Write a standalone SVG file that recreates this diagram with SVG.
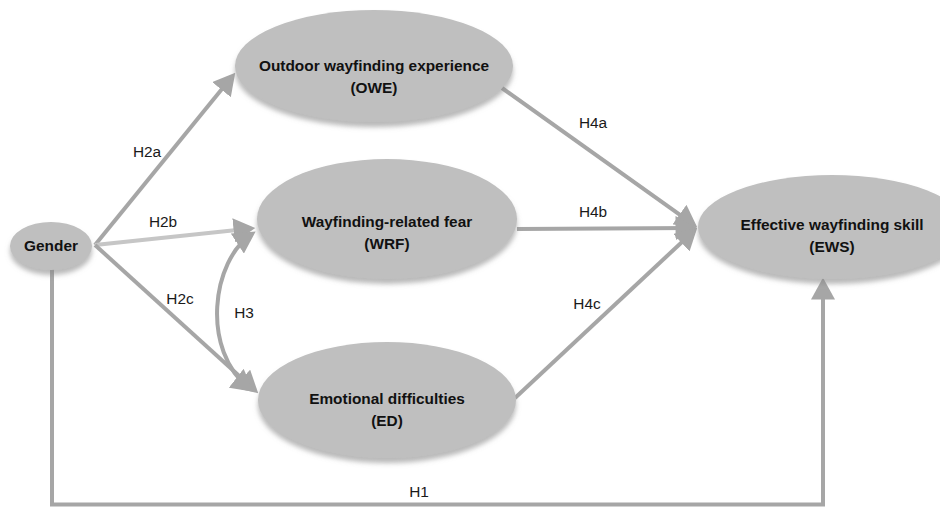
<svg xmlns="http://www.w3.org/2000/svg" width="940" height="508" viewBox="0 0 940 508">
<style>
.node{fill:#bfbfbf;filter:url(#sh)}
.nt{font-family:"Liberation Sans",Arial,sans-serif;font-size:15.4px;font-weight:bold;fill:#111;text-anchor:middle}
.lb{font-family:"Liberation Sans",Arial,sans-serif;font-size:15.4px;fill:#1a1a1a;text-anchor:middle}
.c{fill:none;stroke:#a6a6a6;stroke-width:4}
.c2{fill:none;stroke:#c6c6c6;stroke-width:4}
</style>
<defs>
<filter id="sh" x="-10%" y="-15%" width="120%" height="140%">
<feGaussianBlur in="SourceAlpha" stdDeviation="2.5"/>
<feOffset dy="5" result="b"/>
<feFlood flood-color="#8a8a8a" flood-opacity="0.6"/>
<feComposite in2="b" operator="in"/>
<feMerge><feMergeNode/><feMergeNode in="SourceGraphic"/></feMerge>
</filter>
<marker id="ah" markerUnits="userSpaceOnUse" markerWidth="22" markerHeight="24" viewBox="0 0 20 22" refX="16" refY="11" orient="auto-start-reverse">
<path d="M0,0 L20,11 L0,22 Z" fill="#a6a6a6"/>
</marker>
</defs>
<rect width="940" height="508" fill="#fff"/>
<g id="connectors">
<line class="c" x1="95" y1="245" x2="232.5" y2="76.1" marker-end="url(#ah)"/>
<line class="c2" x1="95" y1="245" x2="251" y2="228.4" marker-end="url(#ah)"/>
<line class="c" x1="95" y1="245" x2="255" y2="390.3" marker-end="url(#ah)"/>
<path class="c" d="M252,234 C212,260 200,350 250,389" marker-start="url(#ah)" marker-end="url(#ah)"/>
<line class="c" x1="502" y1="88" x2="693.7" y2="224.7" marker-end="url(#ah)"/>
<line class="c" x1="517" y1="229" x2="693" y2="228" marker-end="url(#ah)"/>
<line class="c" x1="515" y1="398" x2="694.1" y2="230.7" marker-end="url(#ah)"/>
<path class="c" d="M52,266 V504.5 H823 V282" marker-end="url(#ah)"/>
<text class="lb" x="147" y="157">H2a</text>
<text class="lb" x="163" y="227">H2b</text>
<text class="lb" x="180" y="304">H2c</text>
<text class="lb" x="244" y="318">H3</text>
<text class="lb" x="593" y="128">H4a</text>
<text class="lb" x="593" y="217">H4b</text>
<text class="lb" x="587" y="309">H4c</text>
<text class="lb" x="419" y="497">H1</text>
</g>
<g id="gender">
<ellipse class="node" cx="51" cy="246" rx="41" ry="24"/>
<text class="nt" x="51" y="251">Gender</text>
</g>
<g id="owe">
<ellipse class="node" cx="374" cy="66" rx="139" ry="56"/>
<text class="nt" x="374" y="71">Outdoor wayfinding experience</text>
<text class="nt" x="374" y="93">(OWE)</text>
</g>
<g id="wrf">
<ellipse class="node" cx="387" cy="219" rx="130" ry="60"/>
<text class="nt" x="387" y="227">Wayfinding-related fear</text>
<text class="nt" x="387" y="249">(WRF)</text>
</g>
<g id="ed">
<ellipse class="node" cx="387" cy="400" rx="129" ry="58"/>
<text class="nt" x="387" y="404">Emotional difficulties</text>
<text class="nt" x="387" y="426">(ED)</text>
</g>
<g id="ews">
<ellipse class="node" cx="832" cy="227" rx="134" ry="52"/>
<text class="nt" x="832" y="230">Effective wayfinding skill</text>
<text class="nt" x="832" y="252">(EWS)</text>
</g>
</svg>
